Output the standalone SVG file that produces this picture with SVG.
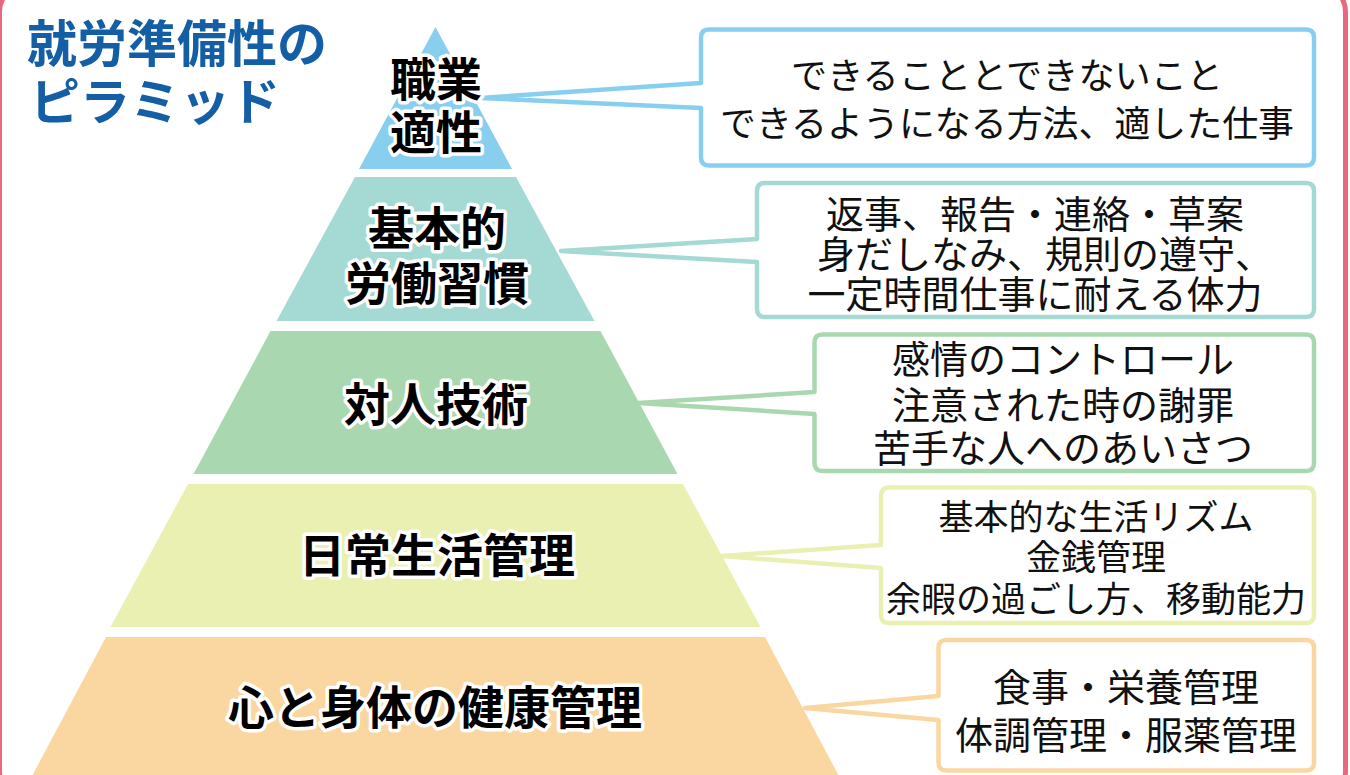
<svg xmlns="http://www.w3.org/2000/svg" width="1350" height="775" viewBox="0 0 1350 775">
<style>
.title{font-family:"Noto Sans CJK JP","Noto Sans",sans-serif;font-weight:700;font-size:50px;fill:#135EA5}
.lbl{font-family:"Noto Sans CJK JP","Noto Sans",sans-serif;font-weight:700;font-size:46px;fill:#000;stroke:#fff;stroke-width:7px;stroke-linejoin:round;paint-order:stroke;text-anchor:middle}
.box{font-family:"Noto Sans CJK JP","Noto Sans",sans-serif;font-weight:400;fill:#111;text-anchor:middle}
.co{fill:#fff;stroke-width:4.5;stroke-linejoin:round}
</style>
<rect x="-0.5" y="-16" width="1346" height="815" rx="28" fill="#fff" stroke="#E8687F" stroke-width="5"/>
<g id="title">
<text class="title" x="27" y="62">就労準備性の</text>
<text class="title" x="30" y="120">ピラミッド</text>
</g>
<g id="layer1">
<polygon points="435.5,27 359,169 512,169" fill="#87CEEF"/>
</g>
<g id="layer2">
<polygon points="355,177 516,177 594.5,321 276.5,321" fill="#A4D9D4"/>
</g>
<g id="layer3">
<polygon points="270.5,331 600.5,331 677.5,474 193.5,474" fill="#A9D8B0"/>
</g>
<g id="layer4">
<polygon points="188,484 683,484 760.5,627 110.5,627" fill="#EAF0B1"/>
</g>
<g id="layer5">
<polygon points="106,637 765,637 840,778 31,778" fill="#FAD7A1"/>
</g>
<g id="connectors">
<path class="co" stroke="#87CEEF" d="M709 29.5 H1306 Q1314 29.5 1314 37.5 V157.5 Q1314 165.5 1306 165.5 H709 Q701 165.5 701 157.5 V108 L480 98 L701 83 V37.5 Q701 29.5 709 29.5 Z"/>
<path class="co" stroke="#A4D9D4" d="M765 183 H1306 Q1314 183 1314 191 V309 Q1314 317 1306 317 H765 Q757 317 757 309 V262 L561 251 L757 239 V191 Q757 183 765 183 Z"/>
<path class="co" stroke="#A9D8B0" d="M822.5 334.5 H1306 Q1314 334.5 1314 342.5 V463 Q1314 471 1306 471 H822.5 Q814.5 471 814.5 463 V414 L638 403 L814.5 392 V342.5 Q814.5 334.5 822.5 334.5 Z"/>
<path class="co" stroke="#EAF0B1" d="M889 487.5 H1306 Q1314 487.5 1314 495.5 V615 Q1314 623 1306 623 H889 Q881 623 881 615 V568 L722 556 L881 545 V495.5 Q881 487.5 889 487.5 Z"/>
<path class="co" stroke="#FAD7A1" d="M946.5 640 H1306 Q1314 640 1314 648 V762.5 Q1314 770.5 1306 770.5 H946.5 Q938.5 770.5 938.5 762.5 V720 L805 708 L938.5 696 V648 Q938.5 640 946.5 640 Z"/>
</g>
<g id="label1">
<text class="lbl" x="436" y="96">職業</text>
<text class="lbl" x="436" y="149">適性</text>
</g>
<g id="label2">
<text class="lbl" x="437" y="245">基本的</text>
<text class="lbl" x="437" y="300">労働習慣</text>
</g>
<g id="label3">
<text class="lbl" x="436" y="421">対人技術</text>
</g>
<g id="label4">
<text class="lbl" x="437" y="572">日常生活管理</text>
</g>
<g id="label5">
<text class="lbl" x="435" y="724">心と身体の健康管理</text>
</g>
<g id="box1" class="box" font-size="36">
<text x="1007" y="88.5" textLength="432" lengthAdjust="spacingAndGlyphs">できることとできないこと</text>
<text x="1007" y="136.5" textLength="574" lengthAdjust="spacingAndGlyphs">できるようになる方法、適した仕事</text>
</g>
<g id="box2" class="box" font-size="38">
<text x="1035" y="227.5">返事、報告・連絡・草案</text>
<text x="1045" y="267.5">身だしなみ、規則の遵守、</text>
<text x="1035" y="307.5">一定時間仕事に耐える体力</text>
</g>
<g id="box3" class="box" font-size="38">
<text x="1063" y="372.5">感情のコントロール</text>
<text x="1063" y="418.5">注意された時の謝罪</text>
<text x="1063" y="461.5">苦手な人へのあいさつ</text>
</g>
<g id="box4" class="box" font-size="35">
<text x="1096" y="529.5">基本的な生活リズム</text>
<text x="1096" y="569.5">金銭管理</text>
<text x="1096" y="611.5">余暇の過ごし方、移動能力</text>
</g>
<g id="box5" class="box" font-size="38">
<text x="1126" y="700.5">食事・栄養管理</text>
<text x="1126" y="748.5">体調管理・服薬管理</text>
</g>
</svg>
